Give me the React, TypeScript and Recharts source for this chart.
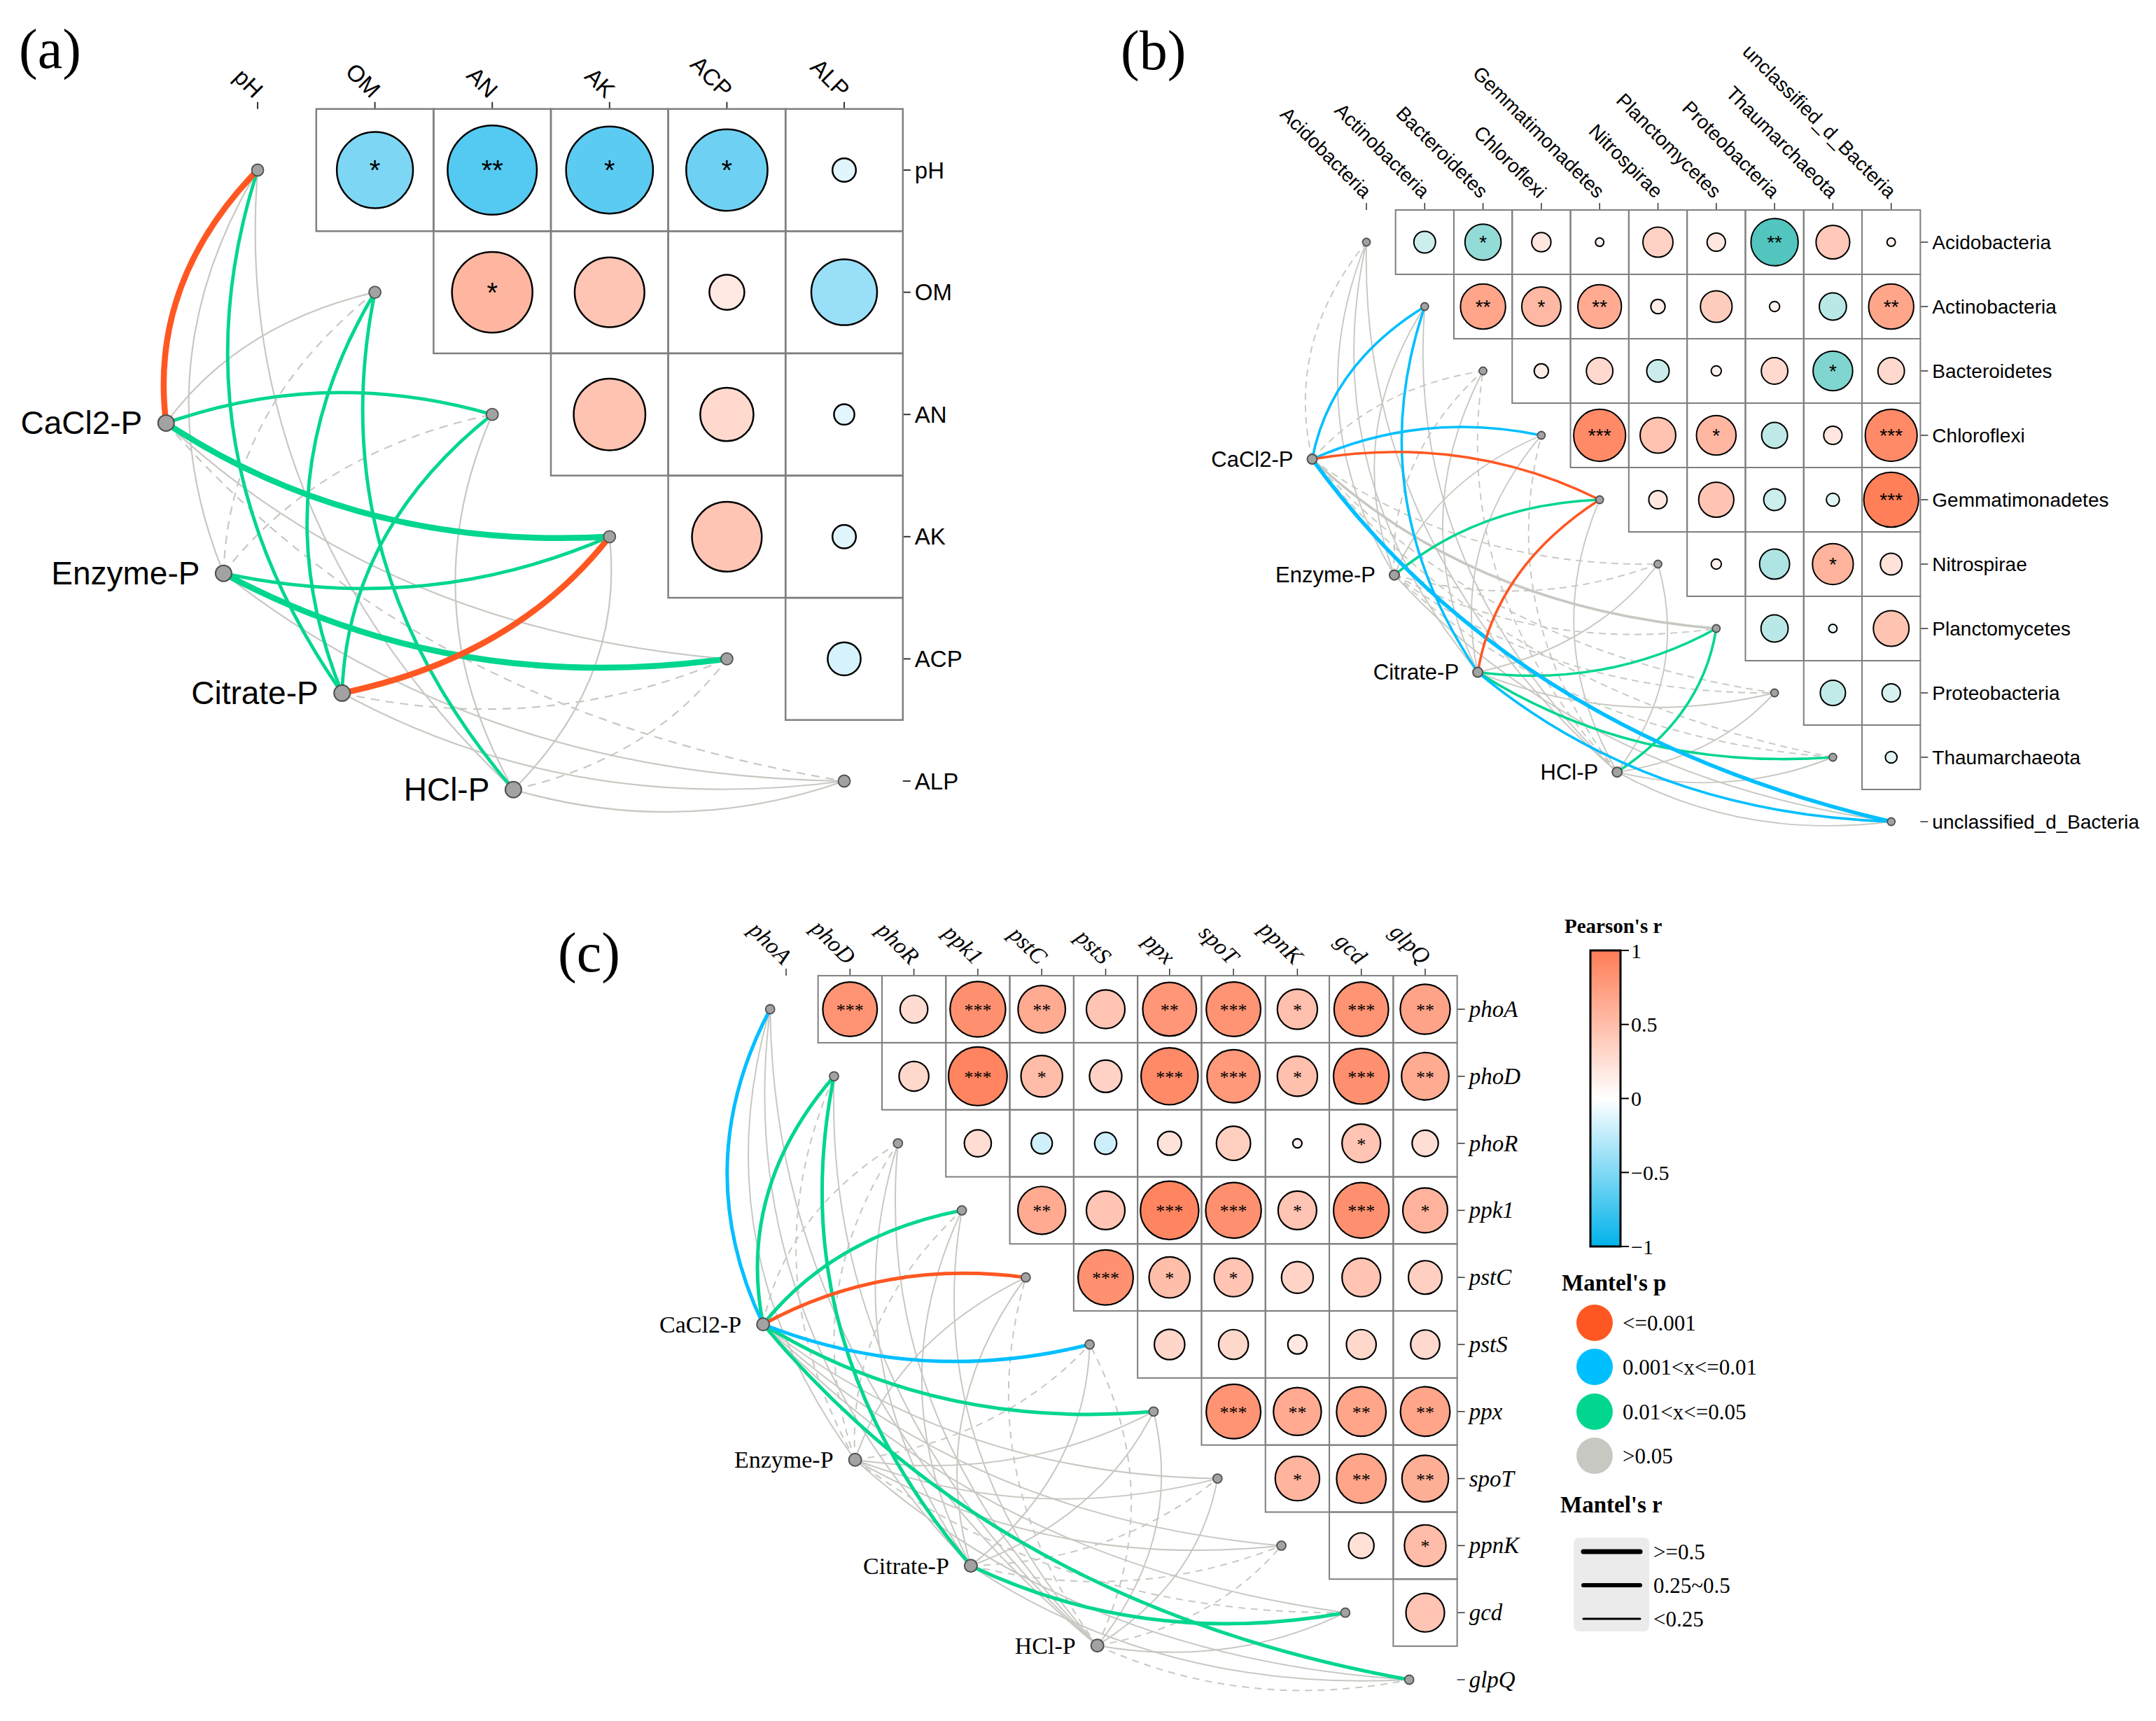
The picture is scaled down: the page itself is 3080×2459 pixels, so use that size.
import React from 'react';
import { ScatterChart, Scatter, XAxis, YAxis } from 'recharts';

const SANS = 'Arial, "Liberation Sans", Helvetica, sans-serif';
const SERIF = '"Times New Roman", "Liberation Serif", Times, serif';

// phosphorus fractions, the link sources in every panel
const pFractions = ['CaCl2-P', 'Enzyme-P', 'Citrate-P', 'HCl-P'];

// ---------- (a) soil properties ----------
const soilVars = ['pH', 'OM', 'AN', 'AK', 'ACP', 'ALP'];
// upper triangle: row i holds the columns after i
const soilR = [
  [-0.51, -0.67, -0.64, -0.57, -0.12],
  [0.56, 0.44, 0.17, -0.4],
  [0.46, 0.29, -0.11],
  [0.44, -0.12],
  [-0.16],
];
const soilSig = [
  ['*', '**', '*', '*', ''],
  ['*', '', '', ''],
  ['', '', ''],
  ['', ''],
  [''],
];
// Mantel p class: 0 <=0.001, 1 0.001-0.01, 2 0.01-0.05, 3 >0.05
const soilMantelP = [
  [0, 3, 2, 2, 3, 3],
  [3, 3, 3, 2, 2, 3],
  [2, 2, 2, 0, 3, 3],
  [3, 2, 3, 3, 3, 3],
];
// Mantel r class: 0 <0.25, 1 0.25~0.5, 2 >=0.5
const soilMantelR = [
  [2, 0, 1, 2, 0, 0],
  [0, 0, 0, 1, 2, 0],
  [1, 1, 1, 2, 0, 0],
  [0, 1, 0, 0, 0, 0],
];
// 1 = negative Mantel r (dashed)
const soilMantelNeg = [
  [0, 0, 0, 0, 0, 1],
  [0, 1, 1, 0, 0, 0],
  [0, 0, 0, 0, 1, 0],
  [0, 0, 0, 0, 1, 0],
];

// ---------- (b) bacterial phyla ----------
const phyla = [
  'Acidobacteria', 'Actinobacteria', 'Bacteroidetes', 'Chloroflexi', 'Gemmatimonadetes',
  'Nitrospirae', 'Planctomycetes', 'Proteobacteria', 'Thaumarchaeota', 'unclassified_d_Bacteria',
];
const phylaR = [
  [-0.22, -0.47, 0.19, 0.1, 0.35, 0.18, -0.75, 0.42, 0.1],
  [0.69, 0.54, 0.65, 0.14, 0.38, 0.11, -0.3, 0.69],
  [0.14, 0.29, -0.23, 0.11, 0.29, -0.55, 0.29],
  [0.89, 0.46, 0.55, -0.28, 0.18, 0.89],
  [0.18, 0.45, -0.22, -0.13, 0.98],
  [0.11, -0.35, 0.58, 0.22],
  [-0.3, -0.1, 0.46],
  [-0.27, -0.18],
  [-0.12],
];
const phylaSig = [
  ['', '*', '', '', '', '', '**', '', ''],
  ['**', '*', '**', '', '', '', '', '**'],
  ['', '', '', '', '', '*', ''],
  ['***', '', '*', '', '', '***'],
  ['', '', '', '', '***'],
  ['', '', '*', ''],
  ['', '', ''],
  ['', ''],
  [''],
];
const phylaMantelP = [
  [3, 1, 3, 1, 0, 3, 3, 3, 3, 1],
  [3, 3, 3, 3, 2, 3, 3, 3, 3, 3],
  [3, 1, 3, 3, 0, 3, 2, 3, 2, 1],
  [3, 3, 3, 3, 3, 3, 2, 3, 3, 3],
];
const phylaMantelR = [
  [0, 1, 0, 1, 1, 0, 1, 0, 0, 2],
  [0, 0, 0, 0, 1, 0, 0, 0, 0, 0],
  [0, 1, 0, 0, 1, 0, 1, 0, 1, 1],
  [0, 0, 0, 0, 0, 0, 1, 0, 0, 0],
];
const phylaMantelNeg = [
  [1, 0, 1, 0, 0, 1, 0, 1, 1, 0],
  [0, 0, 1, 0, 0, 1, 1, 1, 1, 0],
  [0, 0, 0, 0, 0, 0, 0, 0, 0, 0],
  [0, 0, 1, 1, 0, 0, 0, 0, 0, 0],
];

// ---------- (c) P-cycling genes ----------
const genes = ['phoA', 'phoD', 'phoR', 'ppk1', 'pstC', 'pstS', 'ppx', 'spoT', 'ppnK', 'gcd', 'glpQ'];
const geneR = [
  [0.82, 0.27, 0.85, 0.64, 0.45, 0.8, 0.82, 0.48, 0.82, 0.7],
  [0.3, 0.94, 0.51, 0.34, 0.89, 0.78, 0.48, 0.85, 0.64],
  [0.26, -0.19, -0.2, 0.22, 0.37, 0.1, 0.45, 0.25],
  [0.65, 0.45, 0.93, 0.85, 0.45, 0.85, 0.58],
  [0.84, 0.5, 0.45, 0.33, 0.45, 0.36],
  [0.31, 0.3, 0.17, 0.3, 0.29],
  [0.82, 0.65, 0.69, 0.69],
  [0.57, 0.69, 0.62],
  [0.24, 0.51],
  [0.45],
];
const geneSig = [
  ['***', '', '***', '**', '', '**', '***', '*', '***', '**'],
  ['', '***', '*', '', '***', '***', '*', '***', '**'],
  ['', '', '', '', '', '', '*', ''],
  ['**', '', '***', '***', '*', '***', '*'],
  ['***', '*', '*', '', '', ''],
  ['', '', '', '', ''],
  ['***', '**', '**', '**'],
  ['*', '**', '**'],
  ['', '*'],
  [''],
];
const geneMantelP = [
  [1, 2, 3, 2, 0, 1, 2, 3, 3, 3, 2],
  [3, 3, 3, 3, 3, 3, 3, 3, 3, 3, 3],
  [3, 2, 3, 3, 3, 3, 3, 3, 3, 2, 3],
  [3, 3, 3, 3, 3, 3, 3, 3, 3, 3, 3],
];
const geneMantelR = [
  [1, 1, 0, 1, 1, 1, 1, 0, 0, 0, 1],
  [0, 0, 0, 0, 0, 0, 0, 0, 0, 0, 0],
  [0, 1, 0, 0, 0, 0, 0, 0, 0, 1, 0],
  [0, 0, 0, 0, 0, 0, 0, 0, 0, 0, 0],
];
const geneMantelNeg = [
  [0, 0, 1, 0, 0, 0, 0, 0, 0, 0, 0],
  [0, 1, 1, 1, 0, 1, 0, 0, 0, 1, 0],
  [0, 0, 0, 0, 0, 0, 0, 1, 1, 0, 0],
  [0, 0, 0, 0, 1, 1, 0, 0, 1, 0, 1],
];

// ---------- legend ----------
const pClassLabels = ['<=0.001', '0.001<x<=0.01', '0.01<x<=0.05', '>0.05'];
const pClassColors = ['#FF5722', '#00BFFF', '#00D68F', '#C8C8C2'];
const rClassLabels = ['>=0.5', '0.25~0.5', '<0.25'];
const barTicks = [1, 0.5, 0, -0.5, -1];

// ---------- layout of each panel (pixels) ----------
const panels = [
  {
    vars: soilVars, corr: soilR, sig: soilSig,
    mp: soilMantelP, mr: soilMantelR, mneg: soilMantelNeg,
    nodes: [[-0.78, 2.07], [-0.29, 3.3], [0.72, 4.28], [2.18, 5.07]],
    left: 0, top: 0, width: 1500, height: 1250,
    col0: 368, row0: 243, colStep: 167.6, rowStep: 174.6, dotShift: 0,
    font: SANS, italic: false, labelSize: 33, nodeLabelSize: 46, nodeGap: 34,
    starSize: 40, starDy: 14, posColor: [255, 124, 85], negColor: [0, 174, 234],
    widths: [2.2, 4.8, 8.5], dash: '12 9', nodeR: 11.5, dotR: 8.5,
    gridW: 2.5, circW: 2.5, tickW: 2, colGap: 12,
  },
  {
    vars: phyla, corr: phylaR, sig: phylaSig,
    mp: phylaMantelP, mr: phylaMantelR, mneg: phylaMantelNeg,
    nodes: [[-0.93, 3.37], [0.48, 5.17], [1.91, 6.68], [4.3, 8.23]],
    left: 1580, top: 0, width: 1500, height: 1240,
    col0: 1952, row0: 346, colStep: 83.3, rowStep: 92, dotShift: 0,
    font: SANS, italic: false, labelSize: 28, nodeLabelSize: 31, nodeGap: 27,
    starSize: 28, starDy: 10, posColor: [255, 124, 85], negColor: [24, 178, 170],
    widths: [1.9, 3.6, 5.5], dash: '10 7', nodeR: 7, dotR: 5.5,
    gridW: 2, circW: 2, tickW: 1.5, colGap: 12,
  },
  {
    vars: genes, corr: geneR, sig: geneSig,
    mp: geneMantelP, mr: geneMantelR, mneg: geneMantelNeg,
    nodes: [[-0.36, 4.7], [1.08, 6.72], [2.89, 8.3], [4.87, 9.49]],
    left: 760, top: 1240, width: 1480, height: 1219,
    col0: 1123, row0: 1442, colStep: 91.3, rowStep: 95.8, dotShift: -0.25,
    font: SERIF, italic: true, labelSize: 33, nodeLabelSize: 34, nodeGap: 31,
    starSize: 26, starDy: 10, posColor: [255, 124, 85], negColor: [0, 174, 234],
    widths: [2, 5, 7.5], dash: '10 8', nodeR: 9, dotR: 6.5,
    gridW: 2, circW: 2.2, tickW: 1.5, colGap: 12,
  },
];

const mix = (c: number[], t: number) => {
  const k = Math.min(1, Math.abs(t));
  const ch = c.map((v) => Math.round(255 + (v - 255) * k));
  return `rgb(${ch[0]},${ch[1]},${ch[2]})`;
};

// quadratic link, bending to one side of the travel direction
const linkPath = (a: any, b: any, bendLeft: boolean) => {
  const dx = b.x - a.x;
  const dy = b.y - a.y;
  const s = bendLeft ? 1 : -1;
  const qx = (a.x + b.x) / 2 + s * 0.2 * 1.25 * dy;
  const qy = (a.y + b.y) / 2 - s * 0.2 * 0.8 * dx;
  return `M${a.x},${a.y} Q${qx},${qy} ${b.x},${b.y}`;
};

function CorrPanel({ cfg }: { cfg: any }) {
  const n = cfg.vars.length;
  const gridTop = cfg.row0 - cfg.rowStep / 2;
  const gridRight = cfg.col0 + (n - 0.5) * cfg.colStep;
  const xAxisH = gridTop - cfg.top;
  const yAxisW = cfg.left + cfg.width - gridRight;
  const xMin = (cfg.left - cfg.col0) / cfg.colStep;
  const yMax = (cfg.top + cfg.height - cfg.row0) / cfg.rowStep;
  const idx = cfg.vars.map((_: string, i: number) => i);

  const cells: any[] = [];
  cfg.corr.forEach((row: number[], i: number) => {
    row.forEach((r, k) => {
      cells.push({ x: i + 1 + k, y: i, r, sig: cfg.sig[i][k] });
    });
  });

  const points: any[] = [
    ...cfg.vars.map((v: string, i: number) => ({ x: i + cfg.dotShift, y: i, kind: 't', label: v })),
    ...pFractions.map((f, k) => ({ x: cfg.nodes[k][0], y: cfg.nodes[k][1], kind: 'n', label: f })),
  ];

  const edges: any[] = [];
  pFractions.forEach((_, k) => {
    cfg.vars.forEach((_v: string, t: number) => {
      edges.push({ node: k, target: t, p: cfg.mp[k][t], w: cfg.mr[k][t], neg: cfg.mneg[k][t] });
    });
  });
  edges.sort((a, b) => b.p - a.p);

  const half = Math.floor(n / 2);

  const cellShape = (p: any) => {
    const { cx, cy, payload } = p;
    const cw = cfg.colStep;
    const ch = cfg.rowStep;
    const rad = 0.5 * cw * 0.99 * Math.sqrt(Math.max(0, Math.abs(payload.r) - 0.079));
    const fill = mix(payload.r >= 0 ? cfg.posColor : cfg.negColor, payload.r);
    return (
      <g>
        <rect x={cx - cw / 2} y={cy - ch / 2} width={cw} height={ch} fill="none" stroke="#7F7F7F" strokeWidth={cfg.gridW} />
        <circle cx={cx} cy={cy} r={rad} fill={fill} stroke="#000" strokeWidth={cfg.circW} />
        {payload.sig ? (
          <text x={cx} y={cy + cfg.starDy} textAnchor="middle" fontFamily={cfg.font} fontSize={cfg.starSize} fill="#000">
            {payload.sig}
          </text>
        ) : null}
      </g>
    );
  };

  const pointShape = (p: any) => {
    const { cx, cy, payload } = p;
    if (payload.kind === 'n') {
      return (
        <g>
          <circle cx={cx} cy={cy} r={cfg.nodeR} fill="#A2A2A2" stroke="#505050" strokeWidth={2} />
          <text x={cx - cfg.nodeGap} y={cy} textAnchor="end" dominantBaseline="central" fontFamily={cfg.font} fontSize={cfg.nodeLabelSize} fill="#000">
            {payload.label}
          </text>
        </g>
      );
    }
    return <circle cx={cx} cy={cy} r={cfg.dotR} fill="#A2A2A2" stroke="#505050" strokeWidth={1.8} />;
  };

  const linkLines = (p: any) => {
    const pts = p.points || [];
    if (pts.length < n + pFractions.length) return <g />;
    return (
      <g>
        {edges.map((e, i) => (
          <path
            key={i}
            d={linkPath(pts[n + e.node], pts[e.target], e.target < half)}
            fill="none"
            stroke={pClassColors[e.p]}
            strokeWidth={cfg.widths[e.w]}
            strokeDasharray={e.neg ? cfg.dash : undefined}
          />
        ))}
      </g>
    );
  };

  const colTick = (p: any) => {
    const ax = p.x + 2;
    const ay = p.y - cfg.colGap;
    return (
      <text x={ax} y={ay} transform={`rotate(45 ${ax} ${ay})`} textAnchor="end" dominantBaseline="central"
        fontFamily={cfg.font} fontStyle={cfg.italic ? 'italic' : 'normal'} fontSize={cfg.labelSize} fill="#000">
        {cfg.vars[p.payload.value]}
      </text>
    );
  };

  const rowTick = (p: any) => (
    <text x={p.x} y={p.y} textAnchor="start" dominantBaseline="central"
      fontFamily={cfg.font} fontStyle={cfg.italic ? 'italic' : 'normal'} fontSize={cfg.labelSize} fill="#000">
      {cfg.vars[p.payload.value]}
    </text>
  );

  return (
    <div style={{ position: 'absolute', left: cfg.left, top: cfg.top }}>
      <ScatterChart width={cfg.width} height={cfg.height} margin={{ top: 0, right: 0, bottom: 0, left: 0 }}>
        <XAxis
          type="number" dataKey="x" orientation="top" domain={[xMin, n - 0.5]} ticks={idx} interval={0}
          height={xAxisH} axisLine={false} tickLine={{ stroke: '#333', strokeWidth: cfg.tickW }}
          tickSize={10} tickMargin={0} tick={colTick}
        />
        <YAxis
          type="number" dataKey="y" orientation="right" reversed domain={[-0.5, yMax]} ticks={idx} interval={0}
          width={yAxisW} axisLine={false} tickLine={{ stroke: '#333', strokeWidth: cfg.tickW }}
          tickSize={11} tickMargin={6} tick={rowTick}
        />
        <Scatter data={cells} shape={cellShape} isAnimationActive={false} />
        <Scatter data={points} shape={pointShape} line={linkLines} lineType="joint" isAnimationActive={false} />
      </ScatterChart>
    </div>
  );
}

function Legend() {
  const barX = 2272;
  const barY = 1358;
  const barW = 43;
  const barH = 423;
  const pY = [1890, 1953, 2017, 2080];
  const rY = [2217, 2265, 2313];
  const rW = [7, 6, 3];
  return (
    <svg width={3080} height={2459} style={{ position: 'absolute', left: 0, top: 0, pointerEvents: 'none' }}>
      <defs>
        <linearGradient id="pearson" x1="0" y1="0" x2="0" y2="1">
          <stop offset="0%" stopColor="#FF7C55" />
          <stop offset="50%" stopColor="#FFFFFF" />
          <stop offset="100%" stopColor="#00B2EA" />
        </linearGradient>
      </defs>
      <text x={27} y={97} fontFamily={SERIF} fontSize={80}>(a)</text>
      <text x={1601} y={99} fontFamily={SERIF} fontSize={80}>(b)</text>
      <text x={797} y={1388} fontFamily={SERIF} fontSize={80}>(c)</text>

      <text x={2235} y={1333} fontFamily={SERIF} fontWeight="bold" fontSize={29}>Pearson's r</text>
      <rect x={barX} y={barY} width={barW} height={barH} fill="url(#pearson)" stroke="#000" strokeWidth={3} />
      {barTicks.map((v) => {
        const y = barY + ((1 - v) / 2) * barH;
        return (
          <g key={v}>
            <line x1={barX + barW} x2={barX + barW + 12} y1={y} y2={y} stroke="#000" strokeWidth={2} />
            <text x={barX + barW + 15} y={y} dominantBaseline="central" fontFamily={SERIF} fontSize={30}>
              {v < 0 ? `\u2212${Math.abs(v)}` : `${v}`}
            </text>
          </g>
        );
      })}

      <text x={2231} y={1844} fontFamily={SERIF} fontWeight="bold" fontSize={33}>Mantel's p</text>
      {pClassLabels.map((l, i) => (
        <g key={l}>
          <circle cx={2278} cy={pY[i]} r={26} fill={pClassColors[i]} />
          <text x={2318} y={pY[i]} dominantBaseline="central" fontFamily={SERIF} fontSize={31}>{l}</text>
        </g>
      ))}

      <text x={2229} y={2161} fontFamily={SERIF} fontWeight="bold" fontSize={33}>Mantel's r</text>
      <rect x={2248} y={2197} width={108} height={134} rx={8} fill="#EBEBEB" />
      {rClassLabels.map((l, i) => (
        <g key={l}>
          <line x1={2262} x2={2343} y1={rY[i]} y2={rY[i]} stroke="#000" strokeWidth={rW[i]} strokeLinecap="round" />
          <text x={2362} y={rY[i]} dominantBaseline="central" fontFamily={SERIF} fontSize={31}>{l}</text>
        </g>
      ))}
    </svg>
  );
}

export default function App() {
  return (
    <div style={{ position: 'absolute', left: 0, top: 0, width: 3080, height: 2459, background: '#fff', overflow: 'hidden' }}>
      {panels.map((cfg, i) => (
        <CorrPanel key={i} cfg={cfg} />
      ))}
      <Legend />
    </div>
  );
}
